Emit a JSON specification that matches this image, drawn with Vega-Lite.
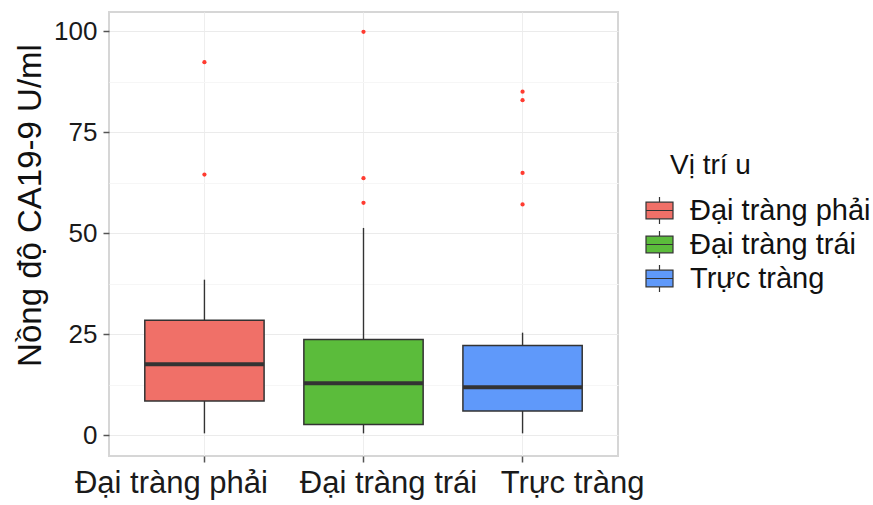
{
  "$schema": "https://vega.github.io/schema/vega-lite/v6.json",
  "width": 509,
  "height": 444,
  "autosize": {"type": "none"},
  "padding": {"left": 109, "top": 12, "right": 255, "bottom": 49},
  "background": "white",
  "config": {
    "font": "Liberation Sans",
    "view": {"stroke": "#d6d6d6", "strokeWidth": 2},
    "axis": {
      "domain": false,
      "grid": true,
      "gridColor": "#eeeeee",
      "gridWidth": 1,
      "tickColor": "#555555",
      "tickWidth": 1.5,
      "tickSize": 6,
      "labelFont": "Liberation Sans",
      "labelColor": "#1a1a1a",
      "labelLimit": 0,
      "titleFont": "Liberation Sans",
      "titleFontWeight": "normal",
      "titleColor": "#111111"
    },
    "legend": {"labelLimit": 0}
  },
  "datasets": {
    "boxes": [
      {"group": "Đại tràng phải", "lower": 0.5, "q1": 8.5, "median": 17.6, "q3": 28.5, "upper": 38.5},
      {"group": "Đại tràng trái", "lower": 0.5, "q1": 2.7, "median": 12.9, "q3": 23.7, "upper": 51.3},
      {"group": "Trực tràng", "lower": 0.5, "q1": 6.0, "median": 11.9, "q3": 22.2, "upper": 25.4}
    ],
    "outliers": [
      {"group": "Đại tràng phải", "value": 92.3},
      {"group": "Đại tràng phải", "value": 64.5},
      {"group": "Đại tràng trái", "value": 99.8},
      {"group": "Đại tràng trái", "value": 63.6},
      {"group": "Đại tràng trái", "value": 57.5},
      {"group": "Trực tràng", "value": 85.0},
      {"group": "Trực tràng", "value": 82.9},
      {"group": "Trực tràng", "value": 64.9},
      {"group": "Trực tràng", "value": 57.1}
    ]
  },
  "encoding": {
    "x": {
      "field": "group",
      "type": "nominal",
      "sort": ["Đại tràng phải", "Đại tràng trái", "Trực tràng"],
      "scale": {"type": "band", "paddingInner": 0, "paddingOuter": 0.1},
      "axis": {
        "title": null,
        "bandPosition": 0.5,
        "labelAngle": 0,
        "labelFontSize": 31,
        "labelBaseline": "alphabetic",
        "labelPadding": 30,
        "labelOverlap": false,
        "labelBound": false,
        "labelOffset": {
          "condition": [
            {"test": "datum.value === 'Đại tràng phải'", "value": -33},
            {"test": "datum.value === 'Đại tràng trái'", "value": 25}
          ],
          "value": 50
        }
      }
    }
  },
  "layer": [
    {
      "data": {"name": "boxes"},
      "mark": {"type": "rule", "color": "#333333", "strokeWidth": 1.4},
      "encoding": {
        "y": {
          "field": "lower",
          "type": "quantitative",
          "scale": {"domain": [-5.1, 104.7], "nice": false, "zero": false},
          "axis": {
            "title": "Nồng độ CA19-9 U/ml",
            "titleFontSize": 33,
            "titleAngle": 270,
            "titleX": -69,
            "titleY": 193,
            "titleAlign": "center",
            "titleBaseline": "alphabetic",
            "values": [0, 12.5, 25, 37.5, 50, 62.5, 75, 87.5, 100],
            "format": "d",
            "labelExpr": "datum.value % 25 === 0 ? datum.label : ''",
            "labelFontSize": 26,
            "labelPadding": 6,
            "gridColor": {"condition": {"test": "datum.value % 25 !== 0", "value": "#f6f6f6"}, "value": "#ebebeb"},
            "tickOpacity": {"condition": {"test": "datum.value % 25 !== 0", "value": 0}, "value": 1}
          }
        },
        "y2": {"field": "upper"}
      }
    },
    {
      "data": {"name": "boxes"},
      "mark": {"type": "bar", "width": {"band": 0.75}, "stroke": "#333333", "strokeWidth": 1.5},
      "encoding": {
        "y": {"field": "q1", "type": "quantitative"},
        "y2": {"field": "q3"},
        "fill": {
          "field": "group",
          "type": "nominal",
          "sort": ["Đại tràng phải", "Đại tràng trái", "Trực tràng"],
          "scale": {"range": ["#f07068", "#5bbc3b", "#5f99fa"]},
          "legend": {
            "title": "Vị trí u",
            "orient": "none",
            "legendX": 536,
            "legendY": 140,
            "padding": 0,
            "titleFontSize": 28,
            "titleFontWeight": "normal",
            "titleColor": "#111111",
            "titlePadding": 16,
            "labelFontSize": 29,
            "labelColor": "#111111",
            "labelOffset": 16,
            "rowPadding": 1,
            "symbolType": "M-1,-0.62H1V0.62H-1Z M-1,0H1 M0,-1V-0.62 M0,0.62V1",
            "symbolSize": 729,
            "symbolStrokeColor": "#333333",
            "symbolStrokeWidth": 1.2,
            "symbolOpacity": 1,
            "encode": {"title": {"update": {"dx": {"value": 25}}}}
          }
        }
      }
    },
    {
      "data": {"name": "boxes"},
      "mark": {"type": "tick", "thickness": 4, "size": 119, "color": "#333333", "opacity": 1},
      "encoding": {
        "y": {"field": "median", "type": "quantitative"}
      }
    },
    {
      "data": {"name": "outliers"},
      "mark": {"type": "point", "filled": true, "color": "#ff3b30", "size": 18, "opacity": 1},
      "encoding": {
        "y": {"field": "value", "type": "quantitative"}
      }
    }
  ]
}
